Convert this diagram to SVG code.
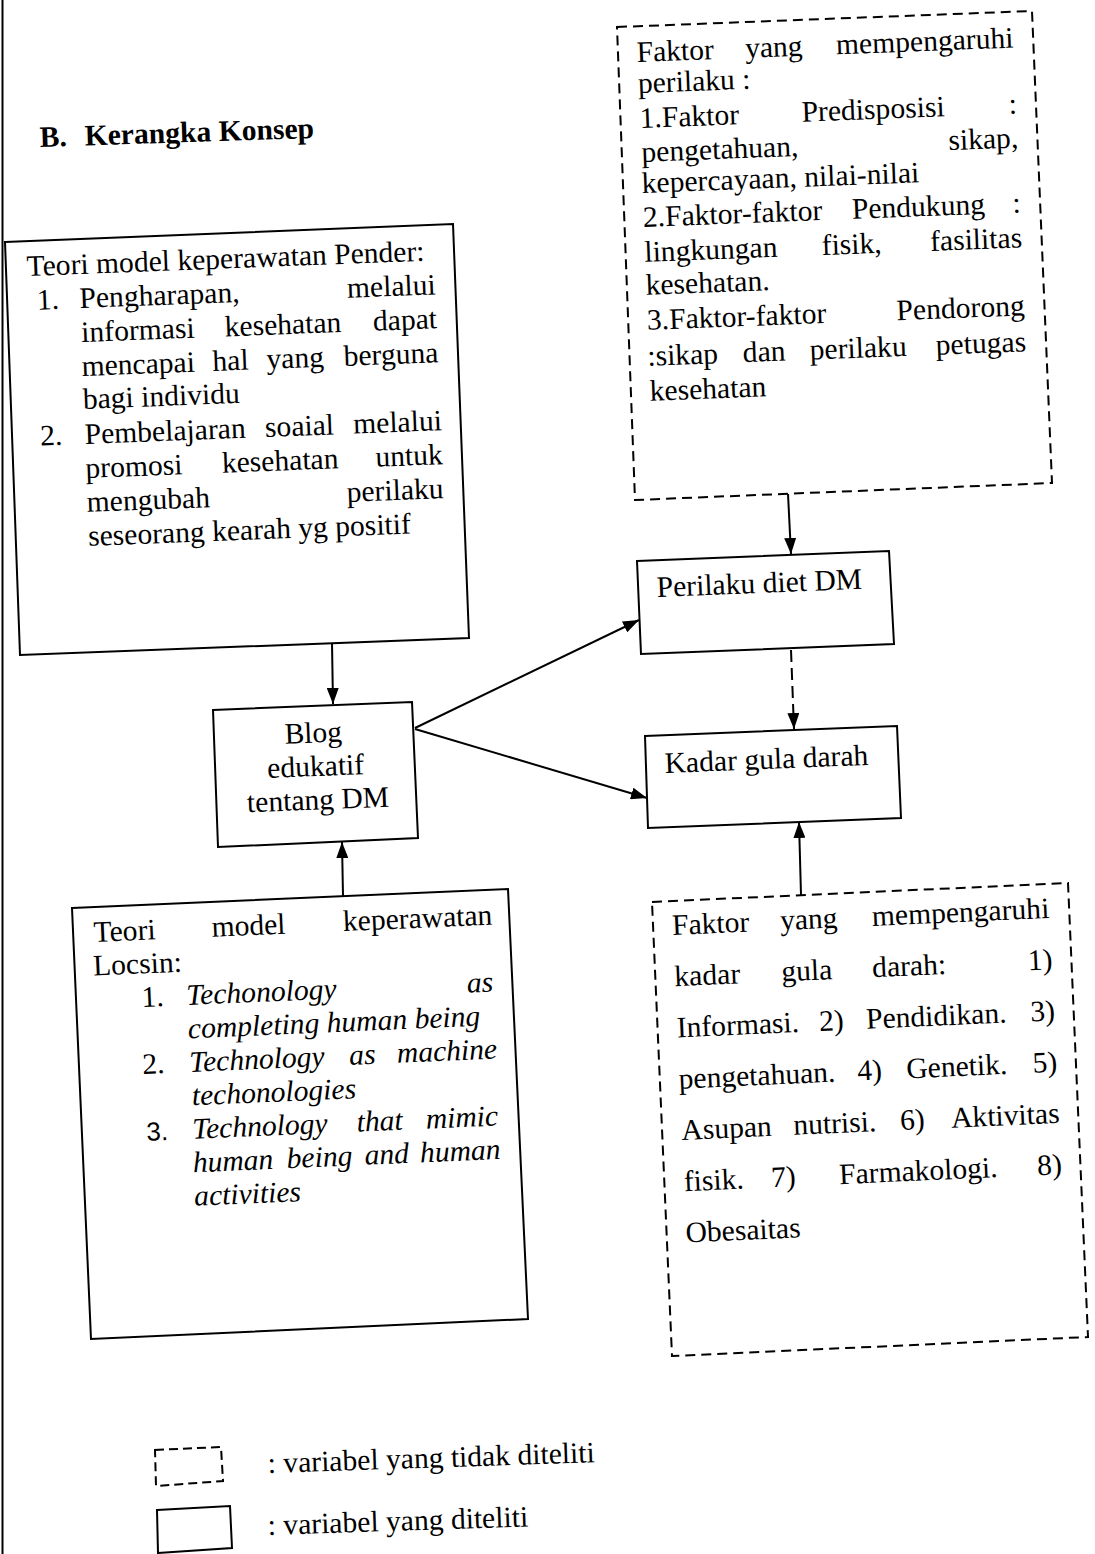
<svg xmlns="http://www.w3.org/2000/svg" width="1095" height="1554" viewBox="0 0 1095 1554">
<defs>
<style>
.t{font-family:"Liberation Serif","Times New Roman",serif;font-size:29.6px;fill:#000}
.b{font-weight:bold}
.i{font-style:italic}
.e{text-anchor:end}
.m{text-anchor:middle}
.box{fill:none;stroke:#000;stroke-width:2}
.dbox{fill:none;stroke:#000;stroke-width:2;stroke-dasharray:10 6}
.ln{fill:none;stroke:#000;stroke-width:2}
.dln{fill:none;stroke:#000;stroke-width:2;stroke-dasharray:12 6}
</style>
<marker id="ah" viewBox="0 0 16 12" refX="16" refY="6" markerWidth="16" markerHeight="12" markerUnits="userSpaceOnUse" orient="auto">
<path d="M0,0 L16,6 L0,12 z" fill="#000"/>
</marker>
</defs>
<rect x="0" y="0" width="1095" height="1554" fill="#fff"/>
<line x1="2.5" y1="0" x2="2.5" y2="1554" stroke="#000" stroke-width="2"/>

<g id="title">
<text class="t b" transform="rotate(-1.9 40 147)"><tspan x="40" y="147">B.</tspan><tspan x="85" y="147">Kerangka Konsep</tspan></text>
</g>

<g id="connectors">
<line class="ln" x1="332" y1="643" x2="333" y2="704" marker-end="url(#ah)"/>
<line class="ln" x1="788" y1="494" x2="791" y2="554" marker-end="url(#ah)"/>
<line class="ln" x1="415" y1="728" x2="639" y2="620" marker-end="url(#ah)"/>
<line class="ln" x1="415" y1="729" x2="647" y2="798" marker-end="url(#ah)"/>
<line class="dln" x1="791" y1="650" x2="794" y2="729" marker-end="url(#ah)"/>
<line class="ln" x1="801" y1="895" x2="799" y2="822" marker-end="url(#ah)"/>
<line class="ln" x1="343" y1="896" x2="342" y2="842" marker-end="url(#ah)"/>
</g>

<g id="pender">
<polygon class="box" points="5,242 453,224 469,638 20,655"/>
<g transform="rotate(-2.2 27 276)">
<text class="t" x="27" y="276">Teori model keperawatan Pender:</text>
<text class="t"><tspan x="36" y="310">1.</tspan><tspan x="78.5" y="310">Pengharapan,</tspan></text>
<text class="t e" x="435" y="310">melalui</text>
<text class="t"><tspan x="79" y="344">informasi</tspan><tspan x="222.5" y="344">kesehatan</tspan></text>
<text class="t e" x="435" y="344">dapat</text>
<text class="t"><tspan x="78" y="378">mencapai</tspan><tspan x="209" y="378">hal</tspan><tspan x="263" y="378">yang</tspan></text>
<text class="t e" x="435" y="378">berguna</text>
<text class="t" x="78" y="411">bagi individu</text>
<text class="t"><tspan x="34" y="446">2.</tspan><tspan x="78.5" y="446">Pembelajaran</tspan><tspan x="259" y="446">soaial</tspan></text>
<text class="t e" x="436" y="446">melalui</text>
<text class="t"><tspan x="78" y="480">promosi</tspan><tspan x="214.5" y="480">kesehatan</tspan></text>
<text class="t e" x="435.5" y="480">untuk</text>
<text class="t" x="78" y="514">mengubah</text>
<text class="t e" x="435" y="514">perilaku</text>
<text class="t" x="78" y="548">seseorang kearah yg positif</text>
</g>
</g>

<g id="faktor-perilaku">
<polygon class="dbox" points="617,27 1032,11 1052,483 635,500"/>
<g transform="rotate(-2.2 637 62)">
<text class="t"><tspan x="637" y="62">Faktor</tspan><tspan x="745.5" y="62">yang</tspan></text>
<text class="t e" x="1014" y="62">mempengaruhi</text>
<text class="t" x="637" y="93">perilaku :</text>
<text class="t"><tspan x="637.5" y="128">1.Faktor</tspan><tspan x="799.5" y="128">Predisposisi</tspan></text>
<text class="t e" x="1015" y="128">:</text>
<text class="t" x="638" y="162">pengetahuan,</text>
<text class="t e" x="1015" y="162">sikap,</text>
<text class="t" x="637" y="193">kepercayaan, nilai-nilai</text>
<text class="t"><tspan x="637" y="227">2.Faktor-faktor</tspan><tspan x="846" y="227">Pendukung</tspan></text>
<text class="t e" x="1015" y="227">:</text>
<text class="t"><tspan x="637" y="262">lingkungan</tspan><tspan x="814.5" y="262">fisik,</tspan></text>
<text class="t e" x="1015" y="262">fasilitas</text>
<text class="t" x="637" y="295">kesehatan.</text>
<text class="t" x="637" y="330">3.Faktor-faktor</text>
<text class="t e" x="1015" y="330">Pendorong</text>
<text class="t"><tspan x="636" y="366">:sikap</tspan><tspan x="731.5" y="366">dan</tspan><tspan x="798.5" y="366">perilaku</tspan></text>
<text class="t e" x="1015" y="366">petugas</text>
<text class="t" x="637" y="401">kesehatan</text>
</g>
</g>

<g id="blog">
<polygon class="box" points="213,710 412,702 418,838 218,847"/>
<g transform="rotate(-2.3 316 776)">
<text class="t m" x="315" y="742.5">Blog</text>
<text class="t m" x="316" y="776">edukatif</text>
<text class="t m" x="317" y="809.5">tentang DM</text>
</g>
</g>

<g id="perilaku-diet">
<polygon class="box" points="637,561 889,551 894,644 641,654"/>
<text class="t" x="657" y="597" transform="rotate(-2.3 657 597)">Perilaku diet DM</text>
</g>

<g id="kadar-gula">
<polygon class="box" points="645,736 897,726 901,818 648,828"/>
<text class="t" x="665" y="773" transform="rotate(-2.3 665 773)">Kadar gula darah</text>
</g>

<g id="locsin">
<polygon class="box" points="72,908 508,889 528,1319 91,1339"/>
<g transform="rotate(-2.5 93 942)">
<text class="t"><tspan x="94" y="942">Teori</tspan><tspan x="212" y="942">model</tspan></text>
<text class="t e" x="493" y="942">keperawatan</text>
<text class="t" x="92" y="975.5">Locsin:</text>
<text class="t" x="139" y="1009">1.</text>
<text class="t i" x="184" y="1009">Techonology</text>
<text class="t i e" x="491" y="1009">as</text>
<text class="t i" x="184" y="1042.5">completing human being</text>
<text class="t" x="137" y="1076">2.</text>
<text class="t i"><tspan x="184" y="1076">Technology</tspan><tspan x="344" y="1076">as</tspan></text>
<text class="t i e" x="492" y="1076">machine</text>
<text class="t i" x="185" y="1109.5">techonologies</text>
<text class="t" x="138" y="1143" style="font-family:'Liberation Sans',Arial,sans-serif;font-size:26px">3.</text>
<text class="t i"><tspan x="184" y="1143">Technology</tspan><tspan x="348.5" y="1143">that</tspan></text>
<text class="t i e" x="490" y="1143">mimic</text>
<text class="t i"><tspan x="183" y="1176.5">human</tspan><tspan x="277" y="1176.5">being</tspan><tspan x="355" y="1176.5">and</tspan></text>
<text class="t i e" x="491" y="1176.5">human</text>
<text class="t i" x="183" y="1210">activities</text>
</g>
</g>

<g id="faktor-kadar">
<polygon class="dbox" points="652,902 1068,883 1088,1337 672,1356"/>
<g transform="rotate(-2.6 672 935)">
<text class="t"><tspan x="672.5" y="935">Faktor</tspan><tspan x="780.5" y="935">yang</tspan></text>
<text class="t e" x="1050" y="935">mempengaruhi</text>
<text class="t"><tspan x="672.5" y="986.3">kadar</tspan><tspan x="779.5" y="986.3">gula</tspan><tspan x="870.5" y="986.3">darah:</tspan></text>
<text class="t e" x="1051" y="986.3">1)</text>
<text class="t"><tspan x="672.5" y="1037.6">Informasi.</tspan><tspan x="815" y="1037.6">2)</tspan><tspan x="862" y="1037.6">Pendidikan.</tspan></text>
<text class="t e" x="1051" y="1037.6">3)</text>
<text class="t"><tspan x="672" y="1088.9">pengetahuan.</tspan><tspan x="851" y="1088.9">4)</tspan><tspan x="900" y="1088.9">Genetik.</tspan></text>
<text class="t e" x="1051" y="1088.9">5)</text>
<text class="t"><tspan x="672.5" y="1140.2">Asupan</tspan><tspan x="784.5" y="1140.2">nutrisi.</tspan><tspan x="891.5" y="1140.2">6)</tspan></text>
<text class="t e" x="1051" y="1140.2">Aktivitas</text>
<text class="t"><tspan x="672.5" y="1191.5">fisik.</tspan><tspan x="760" y="1191.5">7)</tspan><tspan x="828" y="1191.5">Farmakologi.</tspan></text>
<text class="t e" x="1051" y="1191.5">8)</text>
<text class="t" x="672" y="1242.8">Obesaitas</text>
</g>
</g>

<g id="legend">
<polygon class="dbox" points="155,1450 221,1447 223,1481 156,1486" style="stroke-dasharray:9 5"/>
<text class="t" x="268" y="1473" transform="rotate(-1.9 268 1473)">: variabel yang tidak diteliti</text>
<polygon class="box" points="157,1510 230,1506 232,1548 158,1553"/>
<text class="t" x="268" y="1535" transform="rotate(-1.9 268 1535)">: variabel yang diteliti</text>
</g>
</svg>
